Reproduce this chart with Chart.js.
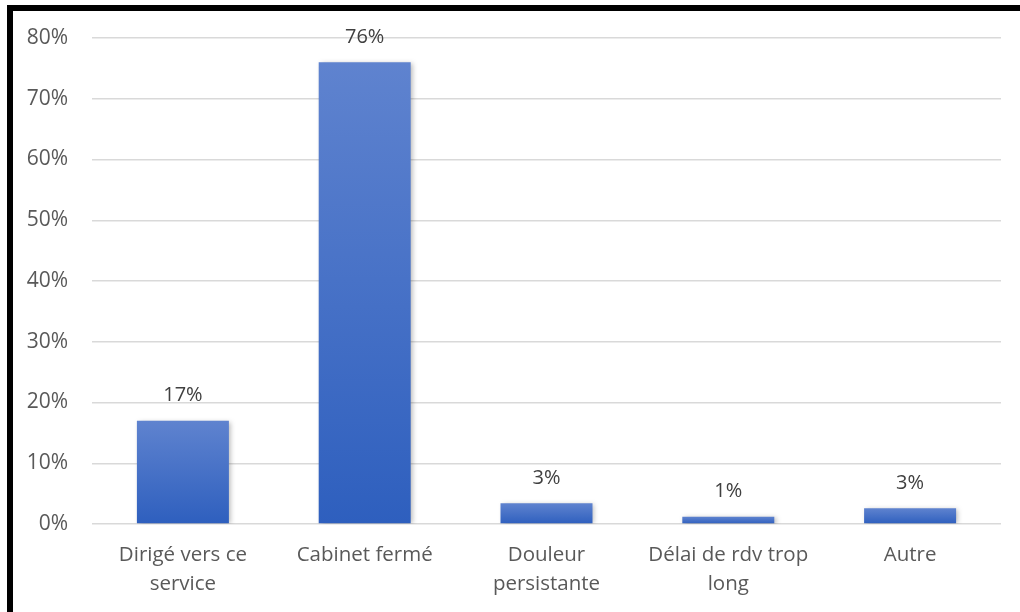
<!DOCTYPE html>
<html>
<head>
<meta charset="utf-8">
<script src="https://cdn.jsdelivr.net/npm/chart.js@4/dist/chart.umd.min.js"></script>
<style>
  body { margin: 0; background: #fff; }
  #wrap { position: relative; width: 1020px; height: 612px; }
  #frame { position: absolute; left: 7px; top: 5px; right: 0; bottom: 0;
           border-left: 6px solid #000; border-top: 6px solid #000; pointer-events: none; }
</style>
</head>
<body>
<div id="wrap">
  <canvas id="raisons" width="1020" height="612"></canvas>
  <div id="frame"></div>
</div>
<script>
// motifs de consultation
var categories = [
    ['Dirigé vers ce', 'service'],
    'Cabinet fermé',
    ['Douleur', 'persistante'],
    ['Délai de rdv trop', 'long'],
    'Autre'
];
var percents = [17, 76, 3.4, 1.2, 2.6];
var yTicks = [0, 10, 20, 30, 40, 50, 60, 70, 80];

var FONT = "'Open Sans', 'Liberation Sans', sans-serif";

// gradient per bar, lighter on top
function barGradient(ctx) {
    var chart = ctx.chart;
    var y = chart.scales.y;
    if (!y || ctx.dataIndex === undefined) return '#4472c4';
    var top = y.getPixelForValue(ctx.raw);
    var base = y.getPixelForValue(0);
    if (!isFinite(top) || !isFinite(base) || base - top < 1) return '#4472c4';
    var g = chart.ctx.createLinearGradient(0, top, 0, base);
    g.addColorStop(0, '#5f83cf');
    g.addColorStop(1, '#2e5fbe');
    return g;
}

var labelsPlugin = {
    id: 'valueLabels',
    beforeDatasetsDraw: function (chart) {
        var c = chart.ctx;
        c.save();
        c.shadowColor = 'rgba(0,0,0,0.28)';
        c.shadowBlur = 5;
        c.shadowOffsetX = 2;
        c.shadowOffsetY = 1;
    },
    afterDatasetsDraw: function (chart) {
        var c = chart.ctx;
        c.restore();
        c.save();
        c.font = '20px ' + FONT;
        c.fillStyle = '#404040';
        c.textAlign = 'center';
        c.textBaseline = 'middle';
        chart.getDatasetMeta(0).data.forEach(function (bar, i) {
            c.fillText(Math.round(percents[i]) + '%', bar.x, bar.y - 25);
        });
        c.restore();
    }
};

var chart = new Chart(document.getElementById('raisons').getContext('2d'), {
    type: 'bar',
    data: {
        labels: categories,
        datasets: [{
            data: percents,
            backgroundColor: barGradient,
            borderWidth: 0,
            categoryPercentage: 1,
            barPercentage: 0.506
        }]
    },
    options: {
        responsive: false,
        animation: false,
        events: [],
        layout: { padding: { top: 38, right: 19, left: 0, bottom: 0 } },
        plugins: { legend: { display: false }, tooltip: { enabled: false } },
        scales: {
            x: {
                afterFit: function (scale) { scale.height = 88; },
                grid: { display: false, drawTicks: false },
                border: { display: false },
                ticks: {
                    color: '#595959',
                    font: { family: FONT, size: 20.5, lineHeight: 1.45 },
                    padding: 16,
                    maxRotation: 0,
                    autoSkip: false
                }
            },
            y: {
                min: 0,
                max: 80,
                afterFit: function (scale) { scale.width = 92; },
                afterBuildTicks: function (scale) {
                    scale.ticks = yTicks.map(function (v) { return { value: v }; });
                },
                grid: { color: '#d9d9d9', lineWidth: 1.5, drawTicks: false },
                border: { display: false },
                ticks: {
                    color: '#595959',
                    font: { family: FONT, size: 21 },
                    padding: 24,
                    callback: function (v) { return v + '%'; }
                }
            }
        }
    },
    plugins: [labelsPlugin]
});
</script>
</body>
</html>
